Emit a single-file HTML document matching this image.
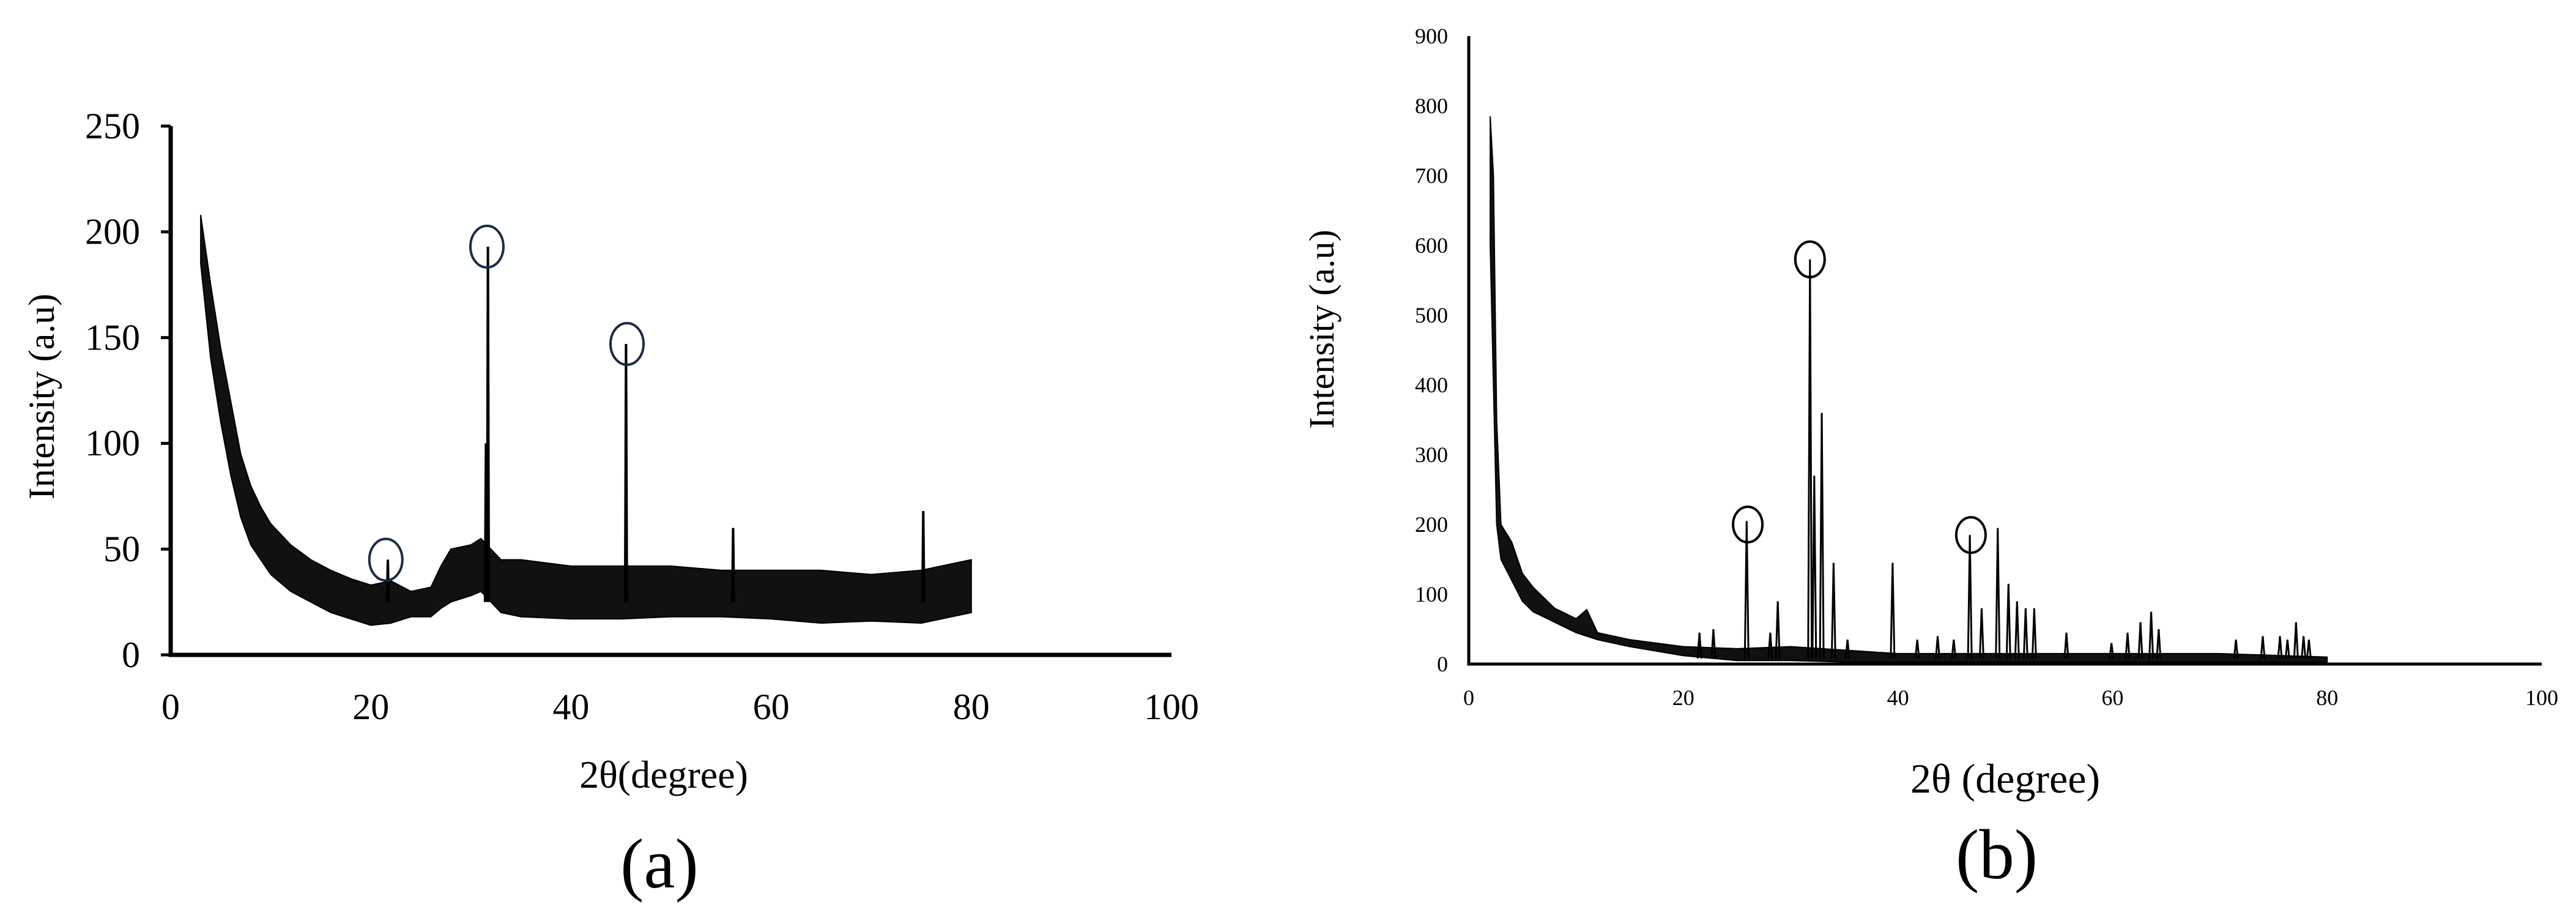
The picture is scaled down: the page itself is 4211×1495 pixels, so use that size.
<!DOCTYPE html>
<html><head><meta charset="utf-8"><style>
html,body{margin:0;padding:0;background:#fff;}
svg{display:block;}
text{font-family:"Liberation Serif",serif;fill:#000;}
</style></head><body>
<svg id="fig" width="4211" height="1495" viewBox="0 0 4211 1495" xmlns="http://www.w3.org/2000/svg">
<g id="pa"></g>
<g id="pb"></g>
</svg>
<script>
// ---- Panel (a) data ----
const aBandX = [3,4,5,6,7,8,9,10,12,14,16,18,20,22,24,26,27,28,30,31,33,35,40,45,50,55,60,65,70,75,80];
const aBandHi = [208,175,145,120,95,80,70,62,52,45,40,36,33,35,30,32,42,50,52,55,45,45,42,42,42,40,40,40,38,40,45];
const aBandLo = [185,140,110,85,65,52,45,38,30,25,20,17,14,15,18,18,22,25,28,30,20,18,17,17,18,18,17,15,16,15,20];
const aPeakX = [21.7,31.5,31.7,45.5,56.2,75.2];
const aPeakY = [45,100,193,147,60,68];
const aCircX = [21.5,31.6,45.6];
const aCircY = [45,193,147];
const aYTicks = [0,50,100,150,200,250];
const aXTicks = [0,20,40,60,80,100];
// ---- Panel (b) data ----
const bBandX = [2,2.3,2.6,3,4,5,6,8,10,11,12,15,20,25,30,35,40,50,60,70,80];
const bBandHi = [785,700,350,200,175,130,110,80,65,78,45,35,25,22,25,20,15,15,15,15,10];
const bBandLo = [600,400,200,150,120,90,75,60,45,40,35,25,12,5,5,3,3,3,3,3,3];
const bPeakX = [21.5,22.8,25.9,28.1,28.8,31.8,32.2,32.9,34.0,35.3,39.5,41.8,43.7,45.2,46.7,47.8,49.3,50.3,51.1,51.9,52.7,55.7,59.9,61.4,62.6,63.6,64.3,71.5,74.0,75.6,76.3,77.1,77.8,78.3];
const bPeakY = [45,50,205,45,90,580,270,360,145,35,145,35,40,35,185,80,195,115,90,80,80,45,30,45,60,75,50,35,40,40,35,60,40,35];
const bCircX = [26,31.8,46.8];
const bCircY = [200,580,185];
const bYTicks = [0,100,200,300,400,500,600,700,800,900];
const bXTicks = [0,20,40,60,80,100];

const NS = "http://www.w3.org/2000/svg";
function mk(tag, attrs, parent){const e=document.createElementNS(NS,tag);for(const k in attrs)e.setAttribute(k,attrs[k]);parent.appendChild(e);return e;}

function panel(g, cfg){
  const sx = v => cfg.x0 + (v - 0) / 100 * (cfg.x1 - cfg.x0);
  const sy = v => cfg.y0 - v / cfg.ymax * (cfg.y0 - cfg.y1);
  // band
  let d = "M" + cfg.bx.map((x,i)=>sx(x)+","+sy(cfg.bh[i])).join(" L");
  for(let i=cfg.bx.length-1;i>=0;i--) d += " L"+sx(cfg.bx[i])+","+sy(cfg.bl[i]);
  d += " Z";
  const band = mk("path",{d:d,fill:"#111",stroke:"#000","stroke-width":2},g);
  
  
  // peaks
  cfg.px.forEach((x,i)=>{
    const base = sy(cfg.base(x));
    const p = mk("path",{d:"M"+(sx(x)-cfg.hw)+","+base+" L"+sx(x)+","+sy(cfg.py[i])+" L"+(sx(x)+cfg.hw)+","+base,fill:"none",stroke:"#000","stroke-width":cfg.pw},g);
    
    
  });
  // circles
  cfg.cx.forEach((x,i)=>{
    const c = mk("ellipse",{cx:sx(x),cy:sy(cfg.cy[i]),rx:cfg.rx,ry:cfg.ry,fill:"none",stroke:cfg.cc,"stroke-width":cfg.cw},g);
    
    
  });
  // axes
  const ya = mk("line",{x1:cfg.x0,y1:cfg.y0,x2:cfg.x0,y2:cfg.y1,stroke:"#000","stroke-width":cfg.aw},g);
  
  
  const xa = mk("line",{x1:cfg.x0-cfg.aw/2,y1:cfg.y0,x2:cfg.x1,y2:cfg.y0,stroke:"#000","stroke-width":cfg.aw},g);
  
  
  cfg.yt.forEach(v=>{
    if(cfg.tick){const t=mk("line",{x1:cfg.x0-cfg.tick,y1:sy(v),x2:cfg.x0,y2:sy(v),stroke:"#000","stroke-width":cfg.aw*0.7},g);
    
    }
    const l = mk("text",{x:cfg.x0-cfg.ylOff,y:sy(v)+cfg.fs*0.33,"font-size":cfg.fs,"text-anchor":"end"},g);
    l.textContent = v;
    
    
  });
  cfg.xt.forEach(v=>{
    const l = mk("text",{x:sx(v),y:cfg.xlY,"font-size":cfg.fs,"text-anchor":"middle"},g);
    l.textContent = v;
    
    
  });
}

panel(document.getElementById("pa"),{x0:279,x1:1915,y0:1070,y1:206,ymax:250,bx:aBandX,bh:aBandHi,bl:aBandLo,px:aPeakX,py:aPeakY,
  base:x=>25,hw:1.5,pw:4,cx:aCircX,cy:aCircY,rx:27,ry:34,cc:"#1c2b45",cw:4,aw:7,yt:aYTicks,xt:aXTicks,tick:16,ylOff:50,fs:60,xlY:1175});
panel(document.getElementById("pb"),{x0:2401,x1:4155,y0:1085,y1:59,ymax:900,bx:bBandX,bh:bBandHi,bl:bBandLo,px:bPeakX,py:bPeakY,
  base:x=>8,hw:3,pw:3,cx:bCircX,cy:bCircY,rx:24,ry:29,cc:"#000",cw:4,aw:5,yt:bYTicks,xt:bXTicks,tick:0,ylOff:34,fs:36,xlY:1152});
</script>
<svg style="position:absolute;left:0;top:0" width="4211" height="1495" xmlns="http://www.w3.org/2000/svg">
<text x="1085" y="1287" font-size="64" text-anchor="middle">2θ(degree)</text>
<text transform="translate(88,648) rotate(-90)" font-size="60" text-anchor="middle">Intensity  (a.u)</text>
<text x="1078" y="1450" font-size="115" text-anchor="middle">(a)</text>
<text x="3278" y="1295" font-size="68" text-anchor="middle">2θ (degree)</text>
<text transform="translate(2180,538) rotate(-90)" font-size="58" text-anchor="middle">Intensity (a.u)</text>
<text x="3264" y="1435" font-size="115" text-anchor="middle">(b)</text>
</svg>
</body></html>
